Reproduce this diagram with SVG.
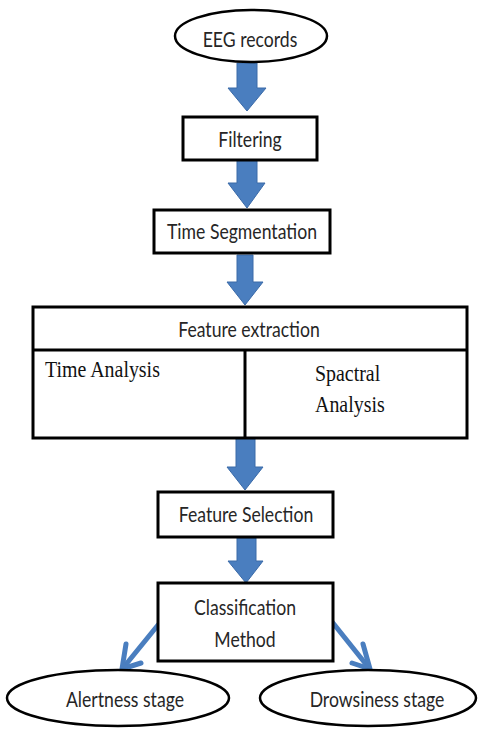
<svg xmlns="http://www.w3.org/2000/svg" width="480" height="732" viewBox="0 0 480 732">
  <style>
    .box { fill: #ffffff; stroke: #000000; stroke-width: 3; }
    .oval { fill: #ffffff; stroke: #000000; stroke-width: 2.5; }
    .lbl { font-family: Lato, "Liberation Sans", sans-serif; font-size: 21px; fill: #262626; text-anchor: middle; }
    .serif { font-family: "Liberation Serif", serif; font-size: 24px; fill: #111111; }
    .blk { fill: #4a7ebf; stroke: #3a6aa8; stroke-width: 1; }
    .thin { stroke: #4a7ebf; stroke-width: 5; fill: none; stroke-linecap: round; stroke-linejoin: round; }
  </style>

  <g id="connectors">
    <!-- block arrows down the main pipeline -->
    <polygon class="blk" points="237,63 257,63 257,88 266,88 247,111 228,88 237,88"/>
    <polygon class="blk" points="237,160 257,160 257,183 265,183 247,208 228,183 237,183"/>
    <polygon class="blk" points="237,255 253,255 253,282 263,282 245,305 227,282 237,282"/>
    <polygon class="blk" points="236,438 255,438 255,467 263,467 245,490 227,467 236,467"/>
    <polygon class="blk" points="237,538 256,538 256,561 263,561 246,583 228,561 237,561"/>
    <!-- branches to the two stages -->
    <path class="thin" d="M158,625 L123,668"/>
    <path class="thin" d="M126,644 L122,669 L141,663"/>
    <path class="thin" d="M333,623 L369,668"/>
    <path class="thin" d="M352,663 L370,669 L363,644"/>
  </g>

  <g id="eeg-records">
    <ellipse class="oval" cx="251" cy="36" rx="76" ry="26"/>
    <text class="lbl" transform="translate(250,47) scale(0.84,1)">EEG records</text>
  </g>

  <g id="filtering">
    <rect class="box" x="183" y="117" width="134" height="43"/>
    <text class="lbl" transform="translate(250,147) scale(0.84,1)">Filtering</text>
  </g>

  <g id="time-segmentation">
    <rect class="box" x="154" y="210" width="176" height="43"/>
    <text class="lbl" transform="translate(242,239) scale(0.84,1)">Time Segmentation</text>
  </g>

  <g id="feature-extraction">
    <rect class="box" x="33" y="307" width="434" height="131"/>
    <line x1="33" y1="350" x2="467" y2="350" stroke="#000" stroke-width="3"/>
    <line x1="245" y1="350" x2="245" y2="438" stroke="#000" stroke-width="3"/>
    <text class="lbl" transform="translate(249,337) scale(0.84,1)">Feature extraction</text>
    <text class="serif" transform="translate(45,377) scale(0.83,1)">Time Analysis</text>
    <text class="serif" transform="translate(315,381) scale(0.83,1)">Spactral</text>
    <text class="serif" transform="translate(315,412) scale(0.83,1)">Analysis</text>
  </g>

  <g id="feature-selection">
    <rect class="box" x="158" y="492" width="175" height="45"/>
    <text class="lbl" transform="translate(246,522) scale(0.84,1)">Feature Selection</text>
  </g>

  <g id="classification-method">
    <rect class="box" x="158" y="583" width="175" height="78"/>
    <text class="lbl" transform="translate(245,615) scale(0.84,1)">Classification</text>
    <text class="lbl" transform="translate(245,647) scale(0.84,1)">Method</text>
  </g>

  <g id="alertness-stage">
    <ellipse class="oval" cx="118" cy="698" rx="111" ry="28"/>
    <text class="lbl" transform="translate(125,707) scale(0.84,1)">Alertness stage</text>
  </g>

  <g id="drowsiness-stage">
    <ellipse class="oval" cx="368" cy="698" rx="108" ry="28"/>
    <text class="lbl" transform="translate(377,707) scale(0.84,1)">Drowsiness stage</text>
  </g>
</svg>
